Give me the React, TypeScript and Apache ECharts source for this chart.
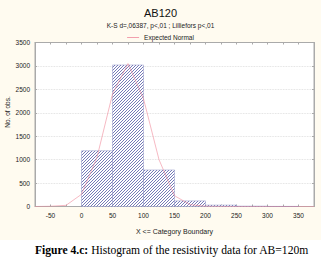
import React, { useEffect, useRef } from "react";
import * as echarts from "echarts";

const binStarts = [0, 50, 100, 150, 200, 250, 300];
const binWidth = 50;
const counts = [1190, 3020, 780, 120, 30, 8, 2];
const normalX = [-75, -50, -25, 0, 25, 50, 75, 100, 125, 150, 175, 200, 225, 250, 275, 300, 325, 350, 375];
const normalY = [0, 5, 25, 260, 1050, 2400, 3050, 2300, 1000, 230, 40, 5, 0, 0, 0, 0, 0, 0, 0];
const xTicks = [-50, 0, 50, 100, 150, 200, 250, 300, 350];

function makeHatch(): string {
  const s = 3;
  const c = document.createElement("canvas");
  c.width = s;
  c.height = s;
  const ctx = c.getContext("2d")!;
  ctx.fillStyle = "#ffffff";
  ctx.fillRect(0, 0, s, s);
  ctx.strokeStyle = "#5258a6";
  ctx.lineWidth = 0.8;
  for (const off of [-s, 0, s]) {
    ctx.beginPath();
    ctx.moveTo(off - 1, s + 1);
    ctx.lineTo(off + s + 1, -1);
    ctx.stroke();
  }
  return c.toDataURL();
}

const App: React.FC = () => {
  const ref = useRef<HTMLDivElement>(null);
  useEffect(() => {
    document.body.style.margin = "0";
    const chart = echarts.init(ref.current!, null, { renderer: "svg" });
    const font = "Liberation Sans, Arial, sans-serif";
    const hatch = makeHatch();
    const axisCommon = {
      axisLine: { show: true, onZero: false, lineStyle: { color: "#aaa" } },
      axisTick: { show: true, inside: true, length: 2, lineStyle: { color: "#aaa" } },
    };
    chart.setOption({
      animation: false,
      backgroundColor: "#fffbf0",
      title: {
        text: "AB120",
        subtext: "K-S d=,06387, p<,01 ; Lilliefors p<,01",
        left: "center",
        top: 2,
        itemGap: 4,
        textStyle: { fontFamily: font, fontSize: 11, fontWeight: "normal", color: "#111" },
        subtextStyle: { fontFamily: font, fontSize: 6.5, color: "#222" },
      },
      legend: {
        top: 29,
        left: "center",
        itemWidth: 12,
        itemHeight: 1,
        textStyle: { fontFamily: font, fontSize: 6.5, color: "#222" },
        data: [{ name: "Expected Normal", icon: "rect", itemStyle: { color: "#f2a0ad" } }],
      },
      graphic: [
        {
          type: "text",
          x: 7,
          y: 112,
          rotation: Math.PI / 2,
          style: {
            text: "No. of obs.",
            fontFamily: font,
            fontSize: 6.5,
            fill: "#222",
            align: "center",
            verticalAlign: "middle",
          },
        },
      ],
      grid: {
        left: 35,
        right: 7,
        top: 42.5,
        bottom: 33.5,
        show: true,
        backgroundColor: "#ffffff",
        borderColor: "#aaa",
        borderWidth: 1,
      },
      xAxis: [
        {
          type: "value",
          min: -75,
          max: 375,
          interval: 25,
          name: "X <= Category Boundary",
          nameLocation: "middle",
          nameGap: 21,
          nameTextStyle: { fontFamily: font, fontSize: 7, color: "#222" },
          ...axisCommon,
          axisLabel: {
            fontFamily: font,
            fontSize: 6.5,
            color: "#222",
            margin: 5,
            formatter: (v: number) => (xTicks.includes(v) ? String(v) : ""),
          },
          splitLine: { show: false },
        },
        {
          type: "value",
          position: "top",
          min: -75,
          max: 375,
          interval: 25,
          ...axisCommon,
          axisLabel: { show: false },
          splitLine: { show: false },
        },
      ],
      yAxis: [
        {
          type: "value",
          min: 0,
          max: 3500,
          interval: 500,
          ...axisCommon,
          axisLabel: {
            fontFamily: font,
            fontSize: 6.5,
            color: "#222",
            margin: 5,
            formatter: (v: number) => String(v),
          },
          splitLine: { show: true, lineStyle: { color: "#d8d8d8", type: "dotted", width: 0.8 } },
        },
        {
          type: "value",
          position: "right",
          min: 0,
          max: 3500,
          interval: 500,
          ...axisCommon,
          axisLabel: { show: false },
          splitLine: { show: false },
        },
      ],
      series: [
        {
          type: "custom",
          name: "Histogram",
          data: binStarts.map((s, i) => [s, s + binWidth, counts[i]]),
          encode: { x: [0, 1], y: 2 },
          renderItem: (params: any, api: any) => {
            const p0 = api.coord([api.value(0), 0]);
            const p1 = api.coord([api.value(1), api.value(2)]);
            return {
              type: "rect",
              shape: { x: p0[0], y: p1[1], width: p1[0] - p0[0], height: p0[1] - p1[1] },
              style: {
                fill: { image: hatch, repeat: "repeat" },
                stroke: "#7a7fbc",
                lineWidth: 0.4,
              },
            };
          },
          z: 2,
        },
        {
          type: "line",
          name: "Expected Normal",
          data: normalX.map((x, i) => [x, normalY[i]]),
          showSymbol: false,
          symbol: "none",
          color: "#f2a0ad",
          lineStyle: { color: "#f08a9a", width: 0.6 },
          z: 3,
        },
      ],
    });
    return () => chart.dispose();
  }, []);
  return (
    <div style={{ position: "absolute", left: 0, top: 0, width: 321, height: 262, background: "#fff" }}>
      <div ref={ref} style={{ width: 321, height: 240 }} />
      <div
        style={{
          position: "absolute",
          top: 244,
          left: 35,
          fontFamily: "Liberation Serif, Times New Roman, serif",
          fontSize: 11.6,
          lineHeight: "14px",
          color: "#000",
          whiteSpace: "nowrap",
        }}
      >
        <b>Figure 4.c:</b> Histogram of the resistivity data for AB=120m
      </div>
    </div>
  );
};

export default App;
